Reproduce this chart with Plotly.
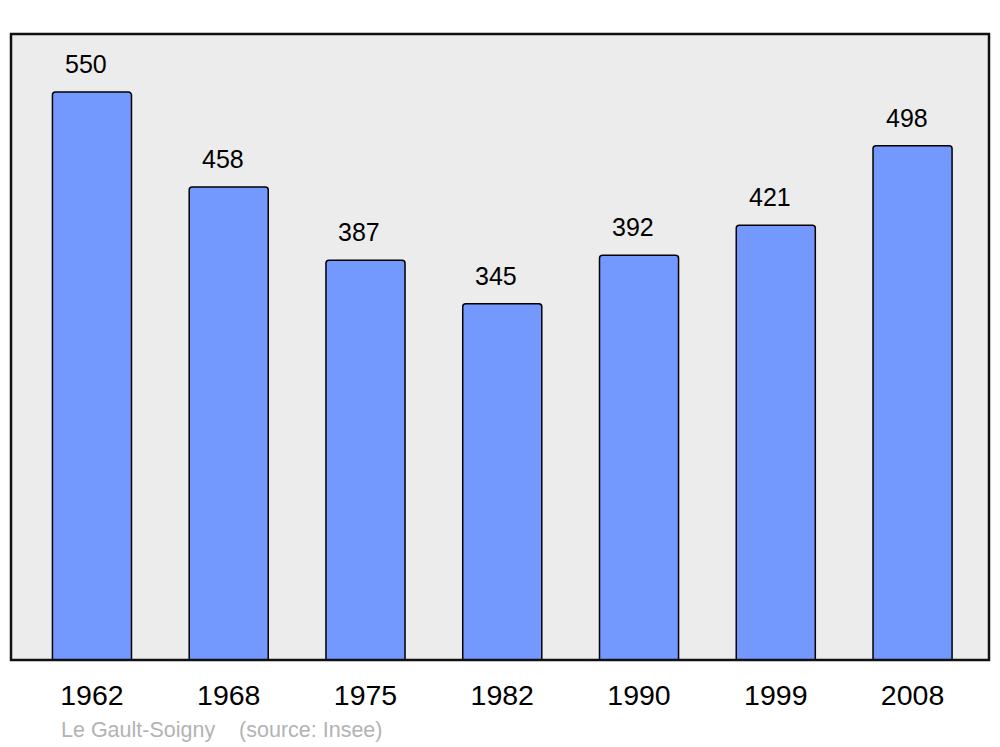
import plotly.graph_objects as go

years = ["1962", "1968", "1975", "1982", "1990", "1999", "2008"]
population = [550, 458, 387, 345, 392, 421, 498]
source_text = "Le Gault-Soigny    (source: Insee)"

xpos = list(range(len(years)))

fig = go.Figure()
fig.add_trace(go.Bar(
    x=xpos, y=population, width=0.578,
    marker=dict(color="#7399ff", line=dict(color="#000000", width=1.5)),
    hoverinfo="skip",
))

for i, v in enumerate(population):
    fig.add_annotation(x=i, y=v, text=str(v), showarrow=False,
                       yanchor="bottom", yshift=12, xshift=-6,
                       font=dict(family="Liberation Sans, Arial", size=25, color="#000"))

fig.add_annotation(xref="paper", yref="paper", x=0.0491, y=-0.112,
                   xanchor="left", yanchor="middle", showarrow=False,
                   text=source_text,
                   font=dict(family="Liberation Sans, Arial", size=21.5, color="#b3b3b3"))

fig.add_shape(type="rect", xref="paper", yref="paper", x0=0, y0=0, x1=1, y1=1,
              line=dict(color="#111111", width=2.5), layer="above")

fig.update_layout(
    width=1000, height=747,
    margin=dict(l=11, r=11, t=34, b=87),
    paper_bgcolor="#ffffff", plot_bgcolor="#ececec",
    barcornerradius=3,
    showlegend=False,
    xaxis=dict(range=[-0.592, 6.559], tickmode="array", tickvals=xpos, ticktext=years,
               ticks="outside", ticklen=10, tickcolor="rgba(0,0,0,0)",
               showgrid=False, zeroline=False, showline=False,
               tickfont=dict(family="Liberation Sans, Arial", size=28.5, color="#000")),
    yaxis=dict(range=[0, 606.2], showticklabels=False, showgrid=False,
               zeroline=False, showline=False),
)

fig.write_html("out.html", config={"displayModeBar": False},
               post_script="document.body.style.margin='0';document.body.style.overflow='hidden';")
